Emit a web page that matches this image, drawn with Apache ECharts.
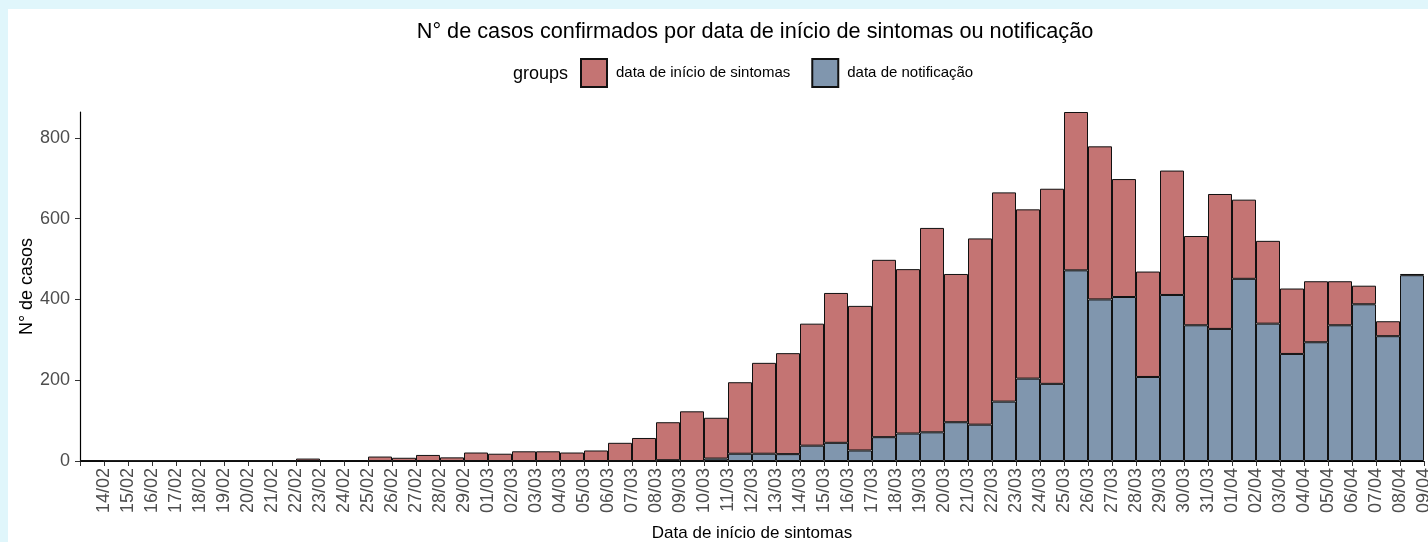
<!DOCTYPE html>
<html>
<head>
<meta charset="utf-8">
<script src="https://cdn.jsdelivr.net/npm/echarts@6/dist/echarts.min.js"></script>
<style>
html,body{margin:0;padding:0;background:#E0F6FB;}
#panel{position:absolute;left:8px;top:9px;right:0;bottom:0;background:#fff;}
#chart{position:absolute;left:0;top:0;width:1428px;height:542px;}
</style>
</head>
<body>
<div id="panel"></div>
<div id="chart"></div>
<script>
// Tick labels (bin boundaries); each bar ends at the matching label
const tickLabels = ['14/02','15/02','16/02','17/02','18/02','19/02','20/02','21/02','22/02','23/02','24/02','25/02','26/02','27/02','28/02','29/02',
  '01/03','02/03','03/03','04/03','05/03','06/03','07/03','08/03','09/03','10/03','11/03','12/03','13/03','14/03','15/03','16/03','17/03','18/03','19/03','20/03','21/03','22/03','23/03','24/03','25/03','26/03','27/03','28/03','29/03','30/03','31/03',
  '01/04','02/04','03/04','04/04','05/04','06/04','07/04','08/04','09/04'];
const categories = tickLabels.slice();
// data de notificação (blue, bottom of stack)
const notificacao = [0,0,0,0,0,0,0,0,0,0,0,0,0,0,0,0,0,0,0,0,0,0,0,0,2,0,6,18,18,17,38,45,26,59,68,71,96,90,147,204,191,472,400,406,208,411,336,327,451,340,265,294,336,388,309,460];
// data de início de sintomas (red, top of stack)
const sintomas = [2,0,0,0,0,0,1,1,1,6,2,2,11,8,15,9,21,18,24,24,21,26,45,57,94,123,101,177,225,250,302,371,358,439,407,506,367,461,518,419,483,392,379,292,261,308,221,334,196,205,162,151,109,46,37,3];
const yTicks = [0,200,400,600,800];

const FONT = 'Liberation Sans, Arial, sans-serif';
const chart = echarts.init(document.getElementById('chart'), null, {renderer:'canvas'});
chart.setOption({
  animation:false,
  backgroundColor:'transparent',
  title:[
    {text:'N° de casos confirmados por data de início de sintomas ou notificação', left:750, top:16, textAlign:'center',
     textStyle:{fontFamily:FONT,fontSize:21.7,fontWeight:'normal',color:'#000'}},
    {text:'groups', left:508, top:60, textStyle:{fontFamily:FONT,fontSize:18,fontWeight:'normal',color:'#000'}}
  ],
  legend:{
    left:580, top:58, padding:0, itemWidth:26, itemHeight:28, itemGap:21, icon:'rect',
    data:['data de início de sintomas','data de notificação'],
    textStyle:{fontFamily:FONT,fontSize:15,color:'#000',padding:[0,0,0,4]}
  },
  grid:{left:80, right:4, top:112, bottom:81, containLabel:false, outerBoundsMode:'none'},
  xAxis:[
    {type:'category', data:categories, boundaryGap:true, position:'bottom',
     axisLine:{show:true,lineStyle:{color:'#000',width:1.2}},
     axisTick:{show:true,interval:0,length:5,lineStyle:{color:'#333'}},
     axisLabel:{show:false},
     name:'Data de início de sintomas', nameLocation:'middle', nameGap:64,
     nameTextStyle:{fontFamily:FONT,fontSize:17,color:'#000'}},
    {type:'category', data:[''].concat(tickLabels), boundaryGap:false, position:'bottom',
     axisLine:{show:false}, axisTick:{show:false},
     axisLabel:{show:true,interval:0,rotate:90,margin:7,fontFamily:FONT,fontSize:18,color:'#4D4D4D'}}
  ],
  yAxis:{
    type:'value', min:0, max:864, interval:200,
    axisLine:{show:true,lineStyle:{color:'#000',width:1.2}},
    axisTick:{show:true,length:5,customValues:yTicks,lineStyle:{color:'#333'}},
    axisLabel:{customValues:yTicks,margin:10,fontFamily:FONT,fontSize:18,color:'#4D4D4D'},
    splitLine:{show:false},
    name:'N° de casos', nameLocation:'middle', nameRotate:90, nameGap:44, nameMoveOverlap:false,
    nameTextStyle:{fontFamily:FONT,fontSize:18,color:'#000'}
  },
  series:[
    {name:'data de notificação', type:'bar', stack:'total', xAxisIndex:0, data:notificacao,
     barCategoryGap:'0%', itemStyle:{color:'#8096AE',borderColor:'#111',borderWidth:1}},
    {name:'data de início de sintomas', type:'bar', stack:'total', xAxisIndex:0, data:sintomas,
     barCategoryGap:'0%', itemStyle:{color:'#C47473',borderColor:'#111',borderWidth:1}}
  ]
});
</script>
</body>
</html>
